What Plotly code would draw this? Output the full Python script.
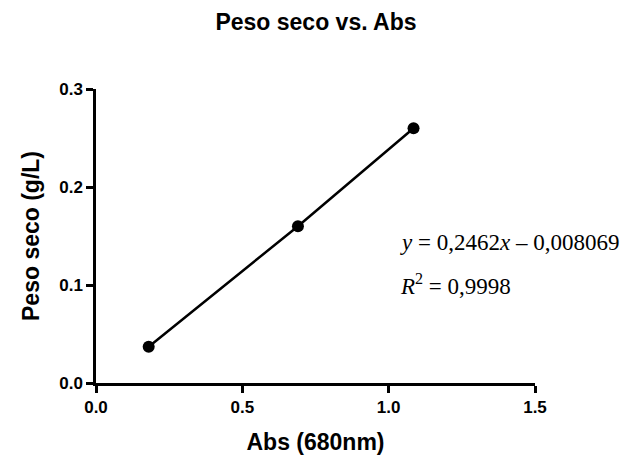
import plotly.graph_objects as go

abs_680 = [0.18, 0.69, 1.085]
peso_seco = [0.037, 0.160, 0.260]
x_ticks = [0.0, 0.5, 1.0, 1.5]
x_labels = ["0.0", "0.5", "1.0", "1.5"]
y_ticks = [0.0, 0.1, 0.2, 0.3]
y_labels = ["0.0", "0.1", "0.2", "0.3"]
title_text = "Peso seco vs. Abs"
x_title = "Abs (680nm)"
y_title = "Peso seco (g/L)"
eq_text = "<i>y</i> = 0,2462<i>x</i> – 0,008069"
r2_text = "<i>R</i><sup>2</sup> = 0,9998"

sans = "Liberation Sans, Arial, sans-serif"

fig = go.Figure()
fig.add_trace(go.Scatter(
    x=abs_680, y=peso_seco, mode="lines+markers",
    line=dict(color="black", width=2.5),
    marker=dict(color="black", size=12),
    cliponaxis=False, showlegend=False,
))

fig.update_layout(
    width=632, height=462,
    margin=dict(l=96, r=97, t=89, b=79),
    paper_bgcolor="white", plot_bgcolor="white",
    title=dict(text="<b>" + title_text + "</b>", x=0.5, xanchor="center",
               y=1 - 22 / 462, yanchor="middle",
               font=dict(family=sans, size=23, color="black")),
    xaxis=dict(range=[0, 1.5], tickvals=x_ticks, ticktext=["<b>%s</b>" % t for t in x_labels],
               showline=True, linecolor="black", linewidth=2.5,
               ticks="outside", ticklen=7, tickwidth=2.5, tickcolor="black",
               showgrid=False, zeroline=False,
               tickfont=dict(family=sans, size=17, color="black"),
               title=dict(text="<b>" + x_title + "</b>", standoff=18,
                          font=dict(family=sans, size=23, color="black"))),
    yaxis=dict(range=[0, 0.3], tickvals=y_ticks, ticktext=["<b>%s</b>" % t for t in y_labels],
               showline=True, linecolor="black", linewidth=2.5,
               ticks="outside", ticklen=7, tickwidth=2.5, tickcolor="black",
               showgrid=False, zeroline=False,
               tickfont=dict(family=sans, size=17, color="black"),
               title=dict(text="<b>" + y_title + "</b>", standoff=14,
                          font=dict(family=sans, size=23, color="black"))),
)

serif = dict(family="Liberation Serif, Times New Roman, serif", size=23, color="black")
fig.add_annotation(text=eq_text, xref="paper", yref="paper",
                   x=(398 - 96) / 439, y=(383 - 242) / 294,
                   xanchor="left", yanchor="middle", showarrow=False, font=serif)
fig.add_annotation(text=r2_text, xref="paper", yref="paper",
                   x=(398 - 96) / 439, y=(383 - 284) / 294,
                   xanchor="left", yanchor="middle", showarrow=False, font=serif)

fig.write_html("out.html")
